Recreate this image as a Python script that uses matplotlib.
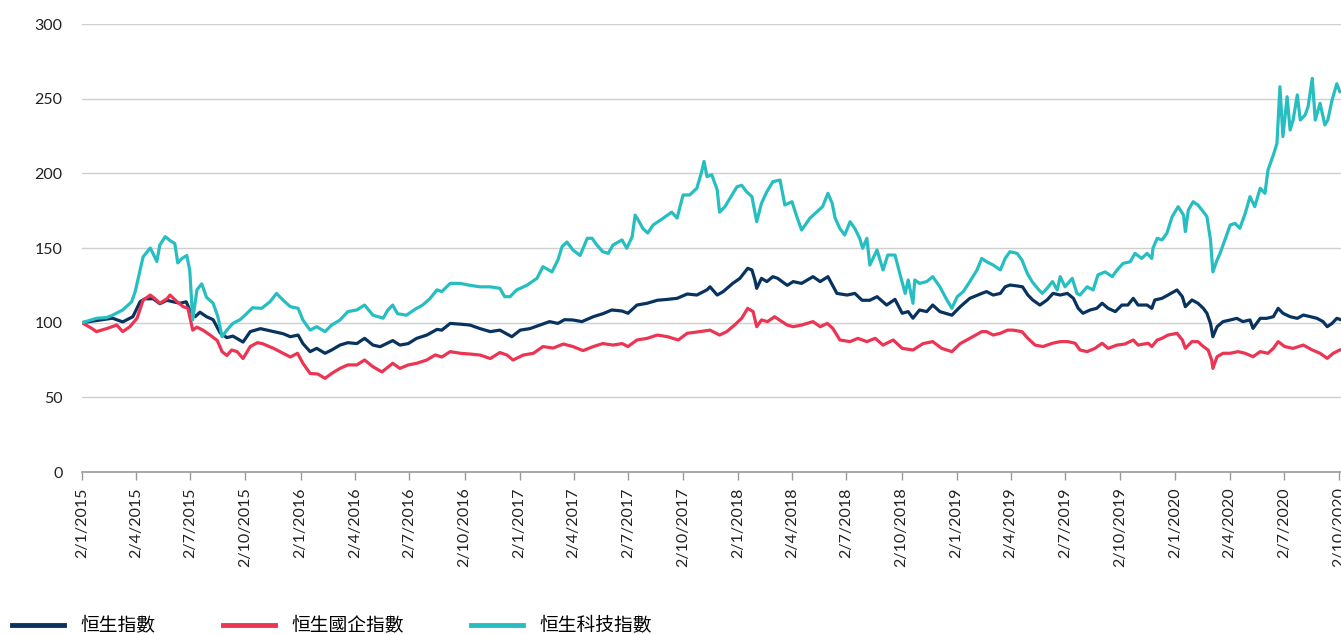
import datetime as dt
import matplotlib
matplotlib.use("Agg")
import matplotlib.pyplot as plt
import matplotlib.dates as mdates
from matplotlib.ticker import FuncFormatter

plt.rcParams['font.family'] = ['Lato', 'Noto Sans CJK TC', 'DejaVu Sans']

# series names (legend)
labels = ["恒生指數", "恒生國企指數", "恒生科技指數"]
colors = ["#08335f", "#ec3453", "#26bec0"]

# 恒生指數 (rebased to 100)
hsi_points = [
    ("2015-01-02", 100), ("2015-02-01", 101.8), ("2015-02-22", 103), ("2015-03-11", 100.5),
    ("2015-03-28", 104), ("2015-04-09", 114), ("2015-04-17", 116), ("2015-05-01", 116),
    ("2015-05-12", 112.7), ("2015-05-24", 115), ("2015-06-03", 114), ("2015-06-15", 113),
    ("2015-06-25", 114), ("2015-07-01", 108.5), ("2015-07-10", 104), ("2015-07-18", 107),
    ("2015-07-29", 104), ("2015-08-09", 102), ("2015-08-21", 93), ("2015-09-01", 90),
    ("2015-09-11", 91), ("2015-09-28", 87), ("2015-10-10", 94), ("2015-10-27", 96),
    ("2015-11-18", 94), ("2015-12-04", 92.6), ("2015-12-16", 90.6), ("2015-12-29", 91.7),
    ("2016-01-06", 86), ("2016-01-18", 80.6), ("2016-01-29", 82.8), ("2016-02-12", 79.5),
    ("2016-02-23", 81.7), ("2016-03-08", 85), ("2016-03-21", 86.6), ("2016-04-05", 86),
    ("2016-04-18", 89.5), ("2016-05-02", 85), ("2016-05-14", 83.9), ("2016-06-04", 88),
    ("2016-06-16", 85), ("2016-06-30", 86), ("2016-07-14", 89.5), ("2016-07-31", 91.7),
    ("2016-08-17", 95.5), ("2016-08-25", 95), ("2016-09-08", 99.5), ("2016-09-25", 99),
    ("2016-10-11", 98.4), ("2016-10-28", 96), ("2016-11-14", 94), ("2016-11-30", 95),
    ("2016-12-20", 90.6), ("2017-01-03", 95), ("2017-01-19", 96), ("2017-02-05", 98.4),
    ("2017-02-21", 100.7), ("2017-03-07", 99.5), ("2017-03-18", 102), ("2017-04-01", 101.8),
    ("2017-04-16", 100.7), ("2017-05-05", 104), ("2017-05-21", 106), ("2017-06-05", 108.5),
    ("2017-06-22", 107.8), ("2017-07-02", 106.3), ("2017-07-17", 111.8), ("2017-08-03", 113),
    ("2017-08-20", 115), ("2017-09-06", 115.6), ("2017-09-22", 116.3), ("2017-10-09", 119.2),
    ("2017-10-25", 118.5), ("2017-11-11", 122), ("2017-11-16", 124), ("2017-11-28", 118.5),
    ("2017-12-08", 120.8), ("2017-12-24", 126.3), ("2018-01-05", 129.7), ("2018-01-18", 136.4),
    ("2018-01-25", 135.3), ("2018-01-30", 128.6), ("2018-02-02", 123), ("2018-02-10", 129.7),
    ("2018-02-19", 127.5), ("2018-03-01", 130.8), ("2018-03-09", 129.7), ("2018-03-25", 125),
    ("2018-04-04", 127.5), ("2018-04-18", 126.3), ("2018-05-07", 130.8), ("2018-05-19", 127.5),
    ("2018-06-01", 130.8), ("2018-06-16", 119.6), ("2018-07-03", 118.5), ("2018-07-16", 119.6),
    ("2018-07-28", 115), ("2018-08-10", 115), ("2018-08-22", 117.4), ("2018-09-07", 111.8),
    ("2018-09-21", 115.6), ("2018-10-03", 106.3), ("2018-10-13", 107.4), ("2018-10-21", 103),
    ("2018-11-01", 108.5), ("2018-11-13", 107.4), ("2018-11-23", 111.8), ("2018-12-05", 107.4),
    ("2018-12-25", 105), ("2019-01-08", 110.7), ("2019-01-24", 116.3), ("2019-02-13", 119.6),
    ("2019-02-21", 120.8), ("2019-03-04", 118.5), ("2019-03-16", 119.6), ("2019-03-24", 124),
    ("2019-04-01", 125.2), ("2019-04-13", 124.6), ("2019-04-22", 124), ("2019-05-01", 118.5),
    ("2019-05-09", 115.2), ("2019-05-21", 111.8), ("2019-06-02", 115.2), ("2019-06-12", 119.6),
    ("2019-06-24", 118.5), ("2019-07-06", 119.6), ("2019-07-16", 116.3), ("2019-07-24", 109.6),
    ("2019-08-01", 106.3), ("2019-08-13", 108.5), ("2019-08-24", 109.6), ("2019-09-02", 113),
    ("2019-09-12", 109.6), ("2019-09-24", 107.4), ("2019-10-05", 111.8), ("2019-10-15", 111.8),
    ("2019-10-24", 116.3), ("2019-11-01", 111.8), ("2019-11-16", 111.8), ("2019-11-24", 109.6),
    ("2019-11-29", 115.2), ("2019-12-11", 116.3), ("2019-12-21", 118.5), ("2020-01-05", 121.9),
    ("2020-01-14", 117.4), ("2020-01-19", 110.7), ("2020-01-30", 115.2), ("2020-02-09", 113),
    ("2020-02-18", 109.6), ("2020-02-24", 106.3), ("2020-03-01", 99.5), ("2020-03-05", 90.6),
    ("2020-03-12", 97.3), ("2020-03-22", 100.7), ("2020-04-03", 101.8), ("2020-04-14", 102.9),
    ("2020-04-24", 100.7), ("2020-05-06", 101.8), ("2020-05-11", 96.2), ("2020-05-23", 102.9),
    ("2020-06-03", 102.9), ("2020-06-14", 104), ("2020-06-22", 109.6), ("2020-06-30", 106.3),
    ("2020-07-12", 104), ("2020-07-24", 102.9), ("2020-08-03", 105.1), ("2020-08-15", 104),
    ("2020-08-26", 102.9), ("2020-09-05", 100.7), ("2020-09-12", 97.3), ("2020-09-20", 99.5),
    ("2020-09-28", 102.9), ("2020-10-03", 102.2),
]

# 恒生國企指數
hscei_points = [
    ("2015-01-02", 100), ("2015-01-19", 96), ("2015-01-26", 94), ("2015-02-12", 96),
    ("2015-03-01", 98.4), ("2015-03-11", 94), ("2015-03-23", 97.3), ("2015-04-04", 103),
    ("2015-04-14", 115), ("2015-04-26", 118.5), ("2015-05-04", 116), ("2015-05-12", 113),
    ("2015-05-24", 116), ("2015-05-29", 118.5), ("2015-06-10", 114), ("2015-06-20", 110.7),
    ("2015-06-28", 109.6), ("2015-07-06", 95), ("2015-07-13", 97), ("2015-07-23", 95),
    ("2015-08-04", 91.7), ("2015-08-16", 88), ("2015-08-24", 80.6), ("2015-09-01", 78),
    ("2015-09-09", 81.7), ("2015-09-18", 80.6), ("2015-09-28", 76), ("2015-10-10", 84),
    ("2015-10-22", 86.6), ("2015-10-30", 86), ("2015-11-18", 82.8), ("2015-12-04", 79.5),
    ("2015-12-16", 77), ("2015-12-28", 79.5), ("2016-01-06", 72.8), ("2016-01-18", 66),
    ("2016-01-31", 65.6), ("2016-02-12", 62.7), ("2016-02-23", 66), ("2016-03-08", 69.4),
    ("2016-03-21", 71.7), ("2016-04-05", 71.7), ("2016-04-18", 75), ("2016-05-02", 70.5),
    ("2016-05-17", 67), ("2016-06-04", 72.8), ("2016-06-16", 69.4), ("2016-06-30", 71.7),
    ("2016-07-14", 72.8), ("2016-07-31", 75), ("2016-08-14", 78.4), ("2016-08-25", 77),
    ("2016-09-08", 80.6), ("2016-09-25", 79.5), ("2016-10-11", 79), ("2016-10-28", 78.3),
    ("2016-11-14", 76), ("2016-11-30", 80), ("2016-12-12", 78.3), ("2016-12-22", 75),
    ("2017-01-08", 78.3), ("2017-01-25", 79.5), ("2017-02-10", 84), ("2017-02-27", 83),
    ("2017-03-16", 85.7), ("2017-04-01", 84), ("2017-04-18", 81.3), ("2017-05-05", 84),
    ("2017-05-21", 86), ("2017-06-07", 85), ("2017-06-22", 86), ("2017-07-02", 84),
    ("2017-07-17", 88.4), ("2017-08-03", 89.5), ("2017-08-20", 91.7), ("2017-09-06", 90.6),
    ("2017-09-24", 88.4), ("2017-10-09", 92.9), ("2017-10-30", 94), ("2017-11-16", 95),
    ("2017-12-02", 91.7), ("2017-12-14", 94), ("2017-12-27", 98.4), ("2018-01-08", 103),
    ("2018-01-18", 109.6), ("2018-01-27", 107.4), ("2018-02-02", 97.3), ("2018-02-10", 101.8),
    ("2018-02-20", 100.7), ("2018-03-04", 104), ("2018-03-16", 100.7), ("2018-03-25", 98.4),
    ("2018-04-04", 97.3), ("2018-04-18", 98.4), ("2018-05-07", 100.7), ("2018-05-19", 97.3),
    ("2018-05-31", 99.5), ("2018-06-09", 96.2), ("2018-06-21", 88.4), ("2018-07-08", 87.3),
    ("2018-07-21", 89.5), ("2018-08-05", 87.3), ("2018-08-19", 89.5), ("2018-09-01", 85),
    ("2018-09-18", 88.4), ("2018-10-03", 82.8), ("2018-10-21", 81.7), ("2018-11-07", 86),
    ("2018-11-23", 87.3), ("2018-12-08", 82.8), ("2018-12-25", 80.6), ("2019-01-08", 86),
    ("2019-01-24", 89.5), ("2019-02-13", 94), ("2019-02-21", 94), ("2019-03-04", 91.7),
    ("2019-03-16", 92.9), ("2019-03-28", 95), ("2019-04-06", 95), ("2019-04-21", 94),
    ("2019-05-01", 89.5), ("2019-05-13", 85), ("2019-05-26", 84), ("2019-06-11", 86.2),
    ("2019-06-24", 87.3), ("2019-07-07", 87.3), ("2019-07-19", 86.2), ("2019-07-27", 81.7),
    ("2019-08-08", 80.6), ("2019-08-21", 82.8), ("2019-09-02", 86.2), ("2019-09-12", 82.8),
    ("2019-09-27", 85), ("2019-10-10", 85.7), ("2019-10-24", 88.4), ("2019-11-01", 85),
    ("2019-11-18", 86.2), ("2019-11-24", 84), ("2019-12-03", 88.4), ("2019-12-11", 89.5),
    ("2019-12-21", 91.7), ("2020-01-05", 92.9), ("2020-01-14", 88.4), ("2020-01-19", 82.8),
    ("2020-01-30", 87.3), ("2020-02-09", 87.3), ("2020-02-18", 84), ("2020-02-26", 81.7),
    ("2020-03-03", 75), ("2020-03-05", 69.4), ("2020-03-12", 77.2), ("2020-03-22", 79.5),
    ("2020-04-03", 79.5), ("2020-04-16", 80.6), ("2020-04-28", 79.5), ("2020-05-11", 77.2),
    ("2020-05-23", 80.6), ("2020-06-05", 79.5), ("2020-06-14", 82.8), ("2020-06-22", 87.3),
    ("2020-07-03", 84), ("2020-07-17", 82.8), ("2020-08-03", 85), ("2020-08-18", 81.7),
    ("2020-08-31", 79.5), ("2020-09-12", 76.1), ("2020-09-22", 79.5), ("2020-10-03", 81.7),
]

# 恒生科技指數
hstech_points = [
    ("2015-01-02", 100), ("2015-01-27", 103), ("2015-02-12", 103.4), ("2015-02-22", 105),
    ("2015-03-11", 108.5), ("2015-03-26", 114), ("2015-04-01", 121), ("2015-04-09", 135),
    ("2015-04-14", 144), ("2015-04-21", 147.5), ("2015-04-26", 150), ("2015-05-01", 146),
    ("2015-05-07", 141), ("2015-05-12", 152), ("2015-05-21", 157.6), ("2015-05-29", 155),
    ("2015-06-06", 153), ("2015-06-11", 140), ("2015-06-18", 143), ("2015-06-26", 145),
    ("2015-07-01", 135), ("2015-07-06", 102), ("2015-07-13", 122), ("2015-07-21", 126),
    ("2015-07-29", 117), ("2015-08-09", 113), ("2015-08-17", 104), ("2015-08-24", 90.6),
    ("2015-09-01", 95), ("2015-09-11", 99.5), ("2015-09-23", 102), ("2015-10-04", 106),
    ("2015-10-14", 110), ("2015-10-29", 109.6), ("2015-11-12", 114), ("2015-11-23", 119.6),
    ("2015-12-04", 115), ("2015-12-16", 110.7), ("2015-12-29", 109.6), ("2016-01-06", 101.8),
    ("2016-01-18", 95), ("2016-01-29", 97.3), ("2016-02-12", 94), ("2016-02-23", 98.4),
    ("2016-03-08", 101.8), ("2016-03-21", 107.4), ("2016-04-05", 108.5), ("2016-04-18", 111.8),
    ("2016-05-02", 105), ("2016-05-19", 103), ("2016-05-27", 108.5), ("2016-06-04", 111.8),
    ("2016-06-12", 106), ("2016-06-27", 105), ("2016-07-11", 108.9), ("2016-07-24", 111.8),
    ("2016-08-05", 116), ("2016-08-17", 122), ("2016-08-25", 120.8), ("2016-09-08", 126.3),
    ("2016-09-25", 126.3), ("2016-10-11", 125), ("2016-10-28", 124), ("2016-11-14", 124),
    ("2016-11-30", 123), ("2016-12-08", 117.4), ("2016-12-17", 117.4), ("2016-12-28", 121.9),
    ("2017-01-14", 125), ("2017-01-31", 129.7), ("2017-02-10", 137.5), ("2017-02-25", 134),
    ("2017-03-07", 142), ("2017-03-14", 151), ("2017-03-22", 154), ("2017-04-01", 148.7),
    ("2017-04-13", 145), ("2017-04-25", 156.5), ("2017-05-03", 156.5), ("2017-05-11", 152),
    ("2017-05-21", 147.5), ("2017-05-30", 146.4), ("2017-06-07", 152), ("2017-06-22", 155.4),
    ("2017-06-30", 149.8), ("2017-07-09", 157.6), ("2017-07-14", 172), ("2017-07-19", 168.8),
    ("2017-07-27", 163), ("2017-08-04", 160), ("2017-08-13", 165.4), ("2017-08-30", 170),
    ("2017-09-13", 174), ("2017-09-22", 170), ("2017-10-02", 185.5), ("2017-10-13", 185.5),
    ("2017-10-25", 190), ("2017-11-02", 201), ("2017-11-06", 208), ("2017-11-11", 197.8),
    ("2017-11-19", 199), ("2017-11-28", 189), ("2017-12-02", 174), ("2017-12-11", 177.7),
    ("2017-12-19", 183), ("2017-12-31", 191), ("2018-01-08", 192), ("2018-01-16", 187.7),
    ("2018-01-25", 184.4), ("2018-02-02", 167.6), ("2018-02-10", 180), ("2018-02-19", 187.7),
    ("2018-03-01", 194.4), ("2018-03-13", 195.5), ("2018-03-21", 178.8), ("2018-04-02", 181),
    ("2018-04-10", 171), ("2018-04-18", 162), ("2018-05-02", 170), ("2018-05-13", 174),
    ("2018-05-23", 177.7), ("2018-06-01", 186.6), ("2018-06-08", 180), ("2018-06-13", 170),
    ("2018-06-21", 163), ("2018-06-29", 158.7), ("2018-07-08", 167.6), ("2018-07-16", 163),
    ("2018-07-24", 156.5), ("2018-07-29", 149.8), ("2018-08-05", 156.5), ("2018-08-10", 138.6),
    ("2018-08-22", 148.7), ("2018-09-01", 135.3), ("2018-09-09", 145.3), ("2018-09-21", 145.3),
    ("2018-09-29", 133), ("2018-10-08", 119.6), ("2018-10-13", 128.6), ("2018-10-21", 113),
    ("2018-10-24", 128.6), ("2018-11-01", 126.3), ("2018-11-13", 127.5), ("2018-11-23", 130.8),
    ("2018-12-05", 124), ("2018-12-17", 115), ("2018-12-25", 109.6), ("2019-01-03", 117.4),
    ("2019-01-13", 120.8), ("2019-01-24", 127.5), ("2019-02-05", 135.3), ("2019-02-13", 143),
    ("2019-02-21", 140.8), ("2019-03-04", 138.6), ("2019-03-16", 135.3), ("2019-03-24", 143),
    ("2019-04-01", 147.5), ("2019-04-13", 146.4), ("2019-04-21", 142), ("2019-04-30", 133),
    ("2019-05-08", 127.5), ("2019-05-17", 123), ("2019-05-25", 119.6), ("2019-06-02", 123),
    ("2019-06-11", 127.5), ("2019-06-19", 121.9), ("2019-06-24", 130.8), ("2019-07-02", 124),
    ("2019-07-14", 129.7), ("2019-07-22", 119.6), ("2019-07-27", 118.5), ("2019-08-08", 124),
    ("2019-08-18", 121.9), ("2019-08-26", 132), ("2019-09-07", 134), ("2019-09-19", 130.8),
    ("2019-09-27", 135.3), ("2019-10-07", 139.7), ("2019-10-19", 140.8), ("2019-10-27", 146.4),
    ("2019-11-07", 143), ("2019-11-16", 146.4), ("2019-11-24", 143), ("2019-11-26", 150),
    ("2019-12-03", 156.5), ("2019-12-11", 155.4), ("2019-12-19", 159.8), ("2019-12-28", 171),
    ("2020-01-07", 177.7), ("2020-01-16", 172), ("2020-01-19", 161), ("2020-01-24", 175.4),
    ("2020-02-01", 181), ("2020-02-09", 178.8), ("2020-02-18", 174.3), ("2020-02-24", 171),
    ("2020-03-01", 155.4), ("2020-03-05", 134), ("2020-03-12", 142), ("2020-03-17", 146.4),
    ("2020-03-25", 155.4), ("2020-04-03", 165.4), ("2020-04-11", 166.5), ("2020-04-19", 163.2),
    ("2020-04-28", 173.2), ("2020-05-06", 184.4), ("2020-05-14", 177.7), ("2020-05-23", 190),
    ("2020-05-31", 186.6), ("2020-06-05", 202.2), ("2020-06-14", 212.3), ("2020-06-20", 220),
    ("2020-06-25", 258), ("2020-06-30", 224.6), ("2020-07-07", 251.3), ("2020-07-12", 229),
    ("2020-07-17", 235.7), ("2020-07-24", 252.5), ("2020-07-29", 235.7), ("2020-08-06", 239),
    ("2020-08-11", 244.6), ("2020-08-18", 263.6), ("2020-08-23", 235.7), ("2020-08-31", 246.9),
    ("2020-09-08", 232.4), ("2020-09-13", 235.7), ("2020-09-20", 249), ("2020-09-28", 260),
    ("2020-10-03", 254.7),
]

tick_dates = [dt.date(y, m, 2) for y in range(2015, 2021) for m in (1, 4, 7, 10)]


def unpack(points):
    d = [dt.datetime.strptime(p[0], "%Y-%m-%d") for p in points]
    v = [p[1] for p in points]
    return d, v


fig = plt.figure(figsize=(13.41, 6.35), dpi=100)
ax = fig.add_axes([82 / 1341, 1 - 472 / 635, 1 - 82 / 1341, (472 - 24) / 635])

for pts, lab, col in zip([hsi_points, hscei_points, hstech_points], labels, colors):
    d, v = unpack(pts)
    ax.plot(d, v, color=col, lw=2.3, label=lab, solid_joinstyle="round")

ax.set_ylim(0, 300)
ax.set_yticks(range(0, 301, 50))
ax.set_xlim(dt.datetime(2015, 1, 2), dt.datetime(2020, 10, 5))
ax.set_xticks([mdates.date2num(t) for t in tick_dates])
ax.xaxis.set_major_formatter(FuncFormatter(
    lambda x, pos: "{0.day}/{0.month}/{0.year}".format(mdates.num2date(x))))

ax.grid(axis="y", color="#cfcfcf", lw=1)
ax.set_axisbelow(True)
for s in ["top", "right", "left"]:
    ax.spines[s].set_visible(False)
ax.spines["bottom"].set_color("#9a9a9a")
ax.spines["bottom"].set_linewidth(1.2)

ax.tick_params(axis="y", length=0, pad=14, labelsize=11.5, labelcolor="#222222")
ax.tick_params(axis="x", length=6, width=1, color="#9a9a9a", pad=5,
               labelsize=11.5, labelcolor="#222222", labelrotation=90)

# legend along the bottom edge
fig.legend(loc="center left", bbox_to_anchor=(12 / 1341, 1 - 626 / 635), ncol=3,
           frameon=False, borderpad=0, borderaxespad=0,
           handlelength=2.75, handletextpad=0.9, columnspacing=3.6,
           prop={"family": ["Noto Sans CJK TC", "DejaVu Sans"], "size": 13.5})
for line in fig.legends[0].get_lines():
    line.set_linewidth(3.5)

fig.savefig("out.png", dpi=100)
